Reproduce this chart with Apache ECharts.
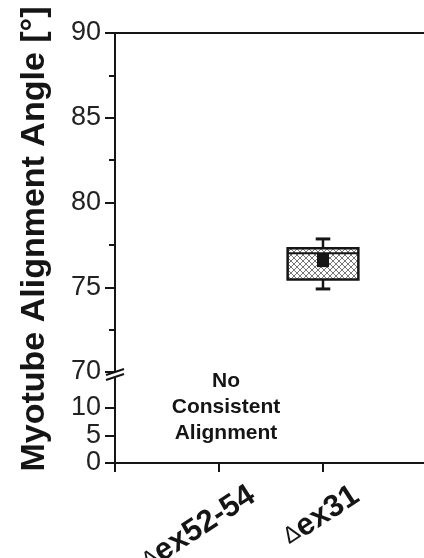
<!DOCTYPE html>
<html><head><meta charset="utf-8">
<script src="https://cdn.jsdelivr.net/npm/echarts@6/dist/echarts.min.js"></script>
<style>html,body{margin:0;padding:0;background:#fff}#c{width:424px;height:558px}</style>
</head><body><div id="c"></div>
<script>
// ---- data ----
const categories = ['ex52-54', 'ex31'];
const categoryPos = [1, 2];
// box stats for Δex31: [x, min, Q1, median, Q3, max]
const boxStats = [[2, 74.9, 75.45, 77.0, 77.3, 77.85]];
const meanValues = [[2, 76.6]];
const upperTicks = [70, 75, 80, 85, 90];
const lowerTicks = [0, 5, 10];
const noDataText = 'No\nConsistent\nAlignment';
const yTitle = 'Myotube Alignment Angle [°]';

const FONT = '"Liberation Sans", Arial, sans-serif';
const INK = '#151515';

function hatch() {
  const c = document.createElement('canvas');
  c.width = 6; c.height = 6;
  const g = c.getContext('2d');
  g.fillStyle = '#fff'; g.fillRect(0, 0, 6, 6);
  g.strokeStyle = '#666'; g.lineWidth = 0.9;
  g.beginPath();
  g.moveTo(0, 0); g.lineTo(6, 6);
  g.moveTo(6, 0); g.lineTo(0, 6);
  g.stroke();
  return c;
}
const hatchPattern = { image: hatch(), repeat: 'repeat' };

const chart = echarts.init(document.getElementById('c'), null, { renderer: 'canvas' });

const axisLine = { show: true, onZero: false, lineStyle: { color: INK, width: 2 } };
const yLabel = { fontSize: 27, lineHeight: 22, color: '#222', margin: 14, fontFamily: FONT, hideOverlap: false };

chart.setOption({
  animation: false,
  backgroundColor: '#fff',
  textStyle: { fontFamily: FONT },
  grid: [
    { left: 115, right: -3, top: 33, height: 339, outerBoundsMode: 'none', containLabel: false },
    { left: 115, right: -3, top: 378, height: 85, outerBoundsMode: 'none', containLabel: false }
  ],
  xAxis: [
    { gridIndex: 0, type: 'value', min: 0, max: 3, position: 'top',
      axisLine: axisLine, axisTick: { show: false }, axisLabel: { show: false }, splitLine: { show: false } },
    { gridIndex: 1, type: 'value', min: 0, max: 3, position: 'bottom',
      axisLine: axisLine,
      axisTick: { show: true, inside: false, length: 9, customValues: [0].concat(categoryPos), lineStyle: { color: INK, width: 2 } },
      axisLabel: { show: false }, splitLine: { show: false } },
    { gridIndex: 1, type: 'value', min: -0.32, max: 2.68, position: 'bottom',
      axisLine: { show: false }, axisTick: { show: false }, splitLine: { show: false },
      axisLabel: {
        show: true, customValues: categoryPos, rotate: 33, margin: 30, hideOverlap: false,
        formatter: v => '{d|Δ}{b|' + categories[categoryPos.indexOf(Math.round(v))] + '}',
        rich: {
          d: { fontFamily: FONT, fontSize: 23, fontWeight: 'normal', color: INK },
          b: { fontFamily: FONT, fontSize: 31, fontWeight: 'bold', color: INK }
        }
      } }
  ],
  yAxis: [
    { gridIndex: 0, type: 'value', min: 70, max: 90, interval: 5,
      axisLine: axisLine,
      axisTick: { show: true, length: 10, lineStyle: { color: INK, width: 2 } },
      minorTick: { show: true, splitNumber: 2, length: 6, lineStyle: { color: INK, width: 2 } },
      axisLabel: Object.assign({ customValues: upperTicks }, yLabel),
      splitLine: { show: false }, minorSplitLine: { show: false } },
    { gridIndex: 1, type: 'value', min: 0, max: 85 / 5.5,
      axisLine: axisLine,
      axisTick: { show: true, length: 10, customValues: lowerTicks, lineStyle: { color: INK, width: 2 } },
      axisLabel: Object.assign({ customValues: lowerTicks }, yLabel),
      splitLine: { show: false } }
  ],
  series: [
    {
      type: 'custom', xAxisIndex: 0, yAxisIndex: 0, data: boxStats,
      renderItem: function (params, api) {
        const x = api.value(0);
        const p = i => api.coord([x, api.value(i)]);
        const cx = p(1)[0];
        const yMin = p(1)[1], yQ1 = p(2)[1], yMed = p(3)[1], yQ3 = p(4)[1], yMax = p(5)[1];
        const bw = api.size([0.68, 0])[0];
        const cw = api.size([0.14, 0])[0];
        const ls = { stroke: INK, lineWidth: 2.5 };
        return { type: 'group', children: [
          { type: 'line', shape: { x1: cx, y1: yMax, x2: cx, y2: yQ3 }, style: ls },
          { type: 'line', shape: { x1: cx, y1: yQ1, x2: cx, y2: yMin }, style: ls },
          { type: 'line', shape: { x1: cx - cw / 2, y1: yMax, x2: cx + cw / 2, y2: yMax }, style: { stroke: INK, lineWidth: 3 } },
          { type: 'line', shape: { x1: cx - cw / 2, y1: yMin, x2: cx + cw / 2, y2: yMin }, style: { stroke: INK, lineWidth: 3 } },
          { type: 'rect', shape: { x: cx - bw / 2, y: yQ3, width: bw, height: yQ1 - yQ3 },
            style: { fill: hatchPattern, stroke: INK, lineWidth: 2.5 } },
          { type: 'line', shape: { x1: cx - bw / 2, y1: yMed, x2: cx + bw / 2, y2: yMed }, style: { stroke: INK, lineWidth: 2 } }
        ] };
      }
    },
    {
      type: 'scatter', xAxisIndex: 0, yAxisIndex: 0, data: meanValues,
      symbol: 'rect', symbolSize: [12, 14], itemStyle: { color: INK, opacity: 1 }, z: 5
    }
  ],
  graphic: [
    { type: 'text', x: 35, y: 239, rotation: Math.PI / 2,
      style: { text: yTitle, font: 'bold 34px ' + FONT, fill: INK, align: 'center', verticalAlign: 'middle' } },
    { type: 'text', x: 226, y: 407,
      style: { text: noDataText, font: 'bold 21px ' + FONT, lineHeight: 26, fill: INK, align: 'center', verticalAlign: 'middle' } },
    { type: 'line', shape: { x1: 106, y1: 375, x2: 124, y2: 369 }, style: { stroke: INK, lineWidth: 2 } },
    { type: 'line', shape: { x1: 106, y1: 380, x2: 124, y2: 374 }, style: { stroke: INK, lineWidth: 2 } }
  ]
});
</script></body></html>
